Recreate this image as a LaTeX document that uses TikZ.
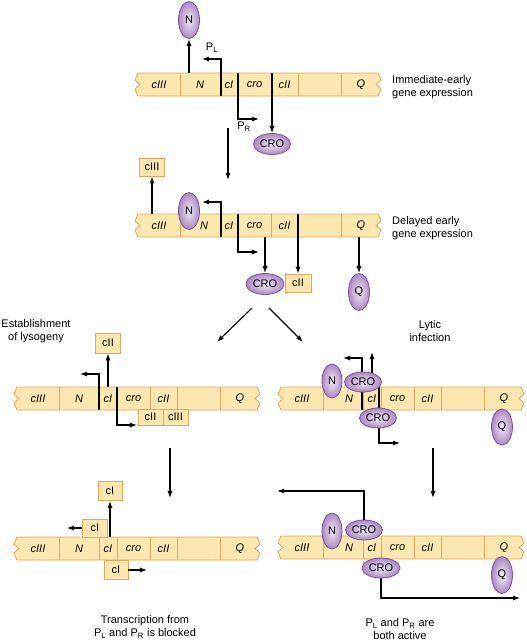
\documentclass[tikz,border=0pt]{standalone}
\usepackage{fontspec}
\setmainfont{Liberation Sans}
\usetikzlibrary{shapes.geometric}
\usetikzlibrary{arrows.meta}

\definecolor{dnafill}{HTML}{FCE7AE}
\definecolor{dnaline}{HTML}{E2A862}
\definecolor{protlight}{HTML}{F3ECF7}
\definecolor{protdark}{HTML}{AB88C4}
\definecolor{protline}{HTML}{7D569A}

\begin{document}
\begin{tikzpicture}[x=1pt,y=-1pt,
    every node/.style={font=\fontsize{11}{13}\selectfont},
    dna_strip/.style={draw=dnaline,fill=dnafill,line width=0.8pt,line join=round},
    dna_line/.style={draw=dnaline,line width=0.8pt},
    gene_label/.style={font=\fontsize{11}{13}\selectfont\itshape,inner sep=0pt},
    prot_tall/.style={ellipse,draw=protline,line width=0.8pt,inner color=protlight,outer color=protdark,
                      inner sep=0pt,minimum width=21pt,minimum height=37pt},
    prot_wide/.style={ellipse,draw=protline,line width=0.8pt,inner color=protlight,outer color=protdark,
                      inner sep=0pt,minimum width=37pt,minimum height=21pt},
    prot_box/.style={rectangle,draw=dnaline,fill=dnafill,line width=0.8pt,
                     inner sep=0pt,minimum width=25pt,minimum height=18pt},
    stage_label/.style={align=center,inner sep=0pt},
    tx_arrow/.style={line width=1.1pt,-{Latex[length=7pt,width=5pt]}}]
\useasboundingbox (0,0) rectangle (527,641);

% the six DNA strips
\foreach \s/\x/\y/\nsh in {a/135/73/0, b/135/214/4, c/14/387/0, d/278/387/6, e/14/537/0, f/278/536/6} {
    \draw[dna_strip] ({\x+3},\y) -- ({\x+243},\y) -- ({\x+246},{\y+7}) -- ({\x+241},{\y+11.5})
        -- ({\x+246},{\y+16}) -- ({\x+243},{\y+23}) -- ({\x+3},{\y+23}) -- (\x,{\y+16})
        -- ({\x+5},{\y+11.5}) -- (\x,{\y+7}) -- cycle;
    \foreach \d in {45,85,103,136,163,206}
        \draw[dna_line] ({\x+\d},\y) -- ({\x+\d},{\y+23});
    \node[gene_label] (\s-cIII) at ({\x+24},{\y+11.5}) {cIII};
    \node[gene_label] (\s-N) at ({\x+65+\nsh},{\y+11.5}) {N};
    \node[gene_label] (\s-cI) at ({\x+94},{\y+11.5}) {cI};
    \node[gene_label] (\s-cro) at ({\x+119.5},{\y+11.5}) {cro};
    \node[gene_label] (\s-cII) at ({\x+149.5},{\y+11.5}) {cII};
    \node[gene_label] (\s-Q) at ({\x+226},{\y+11.5}) {Q};
}

% stage texts
\node[stage_label,anchor=west,align=left] (lab-a) at (392,87) {Immediate-early\\gene expression};
\node[stage_label,anchor=west,align=left] (lab-b) at (392,228) {Delayed early\\gene expression};
\node[stage_label] (lab-c) at (36,331) {Establishment\\of lysogeny};
\node[stage_label] (lab-d) at (430,331) {Lytic\\infection};
\node[stage_label] (lab-e) at (145,627) {Transcription from\\P\textsubscript{L} and P\textsubscript{R} is blocked};
\node[stage_label] (lab-f) at (400,629) {P\textsubscript{L} and P\textsubscript{R} are\\both active};

% promoter arrows drawn under the proteins
\coordinate (a-PL) at (221,96);   \coordinate (a-PLend) at (202,59);
\coordinate (a-PR) at (238,73);   \coordinate (a-PRend) at (259,119);
\coordinate (b-PL) at (221,237);  \coordinate (b-PLend) at (202,202);
\coordinate (b-PR) at (238,214);  \coordinate (b-PRend) at (259,252);
\coordinate (c-PL) at (99,410);   \coordinate (c-PLend) at (80,374);
\coordinate (c-PR) at (117,387);  \coordinate (c-PRend) at (137,425);
\coordinate (d-PL) at (362,410);  \coordinate (d-PLend) at (343,358);
\coordinate (d-PR) at (379,387);  \coordinate (d-PRend) at (400,443);
\draw[tx_arrow] (a-PL) |- (a-PLend);
\draw[tx_arrow] (a-PR) |- (a-PRend);
\draw[tx_arrow] (b-PL) |- (b-PLend);
\draw[tx_arrow] (b-PR) |- (b-PRend);
\draw[tx_arrow] (c-PL) |- (c-PLend);
\draw[tx_arrow] (c-PR) |- (c-PRend);
\draw[tx_arrow] (d-PL) |- (d-PLend);
\draw[tx_arrow] (d-PR) |- (d-PRend);
\node (a-PLlab) at (212,48) {P\textsubscript{L}};
\node (a-PRlab) at (244,127) {P\textsubscript{R}};

% proteins
\node[prot_tall] (a-Nprot) at (189,20) {N};
\node[prot_wide] (a-CRO) at (272,144) {CRO};

\node[prot_box] (b-cIIIprot) at (152,167) {cIII};
\node[prot_tall] (b-Nprot) at (189,211) {N};
\node[prot_wide,minimum width=38pt] (b-CRO) at (265,284) {CRO};
\node[prot_box,minimum width=26pt] (b-cIIprot) at (298,283) {cII};
\node[prot_tall] (b-Qprot) at (359,292) {Q};

\node[prot_box,minimum height=20pt] (c-cIItop) at (108,343) {cII};
\node[prot_box,minimum height=16pt] (c-cIIlow) at (150.5,417) {cII};
\node[prot_box,minimum height=16pt] (c-cIIIlow) at (175.5,417) {cIII};

\node[prot_tall,minimum width=20pt,minimum height=34pt] (d-Nprot) at (332,381) {N};
\node[prot_wide,minimum height=20pt] (d-CROup) at (363,382) {CRO};
\node[prot_wide,minimum height=20pt] (d-CROlow) at (378,418) {CRO};
\node[prot_tall,minimum height=36pt] (d-Qprot) at (502,427) {Q};

\node[prot_box,minimum width=24pt,minimum height=19pt] (e-cItop) at (110,491) {cI};
\node[prot_box] (e-cIleft) at (95,528) {cI};
\node[prot_box,minimum width=24pt,minimum height=19pt] (e-cIlow) at (116,570) {cI};

\node[prot_tall,minimum width=20pt,minimum height=36pt] (f-Nprot) at (332,531) {N};
\node[prot_wide,minimum height=20pt] (f-CROup) at (364,530) {CRO};
\node[prot_wide,minimum width=38pt,minimum height=20pt] (f-CROlow) at (381,568) {CRO};
\node[prot_tall] (f-Qprot) at (502,575) {Q};

% expression arrows
\coordinate (a-Nstart) at (189,73);
\coordinate (a-CROstart) at (272,73);
\coordinate (b-cIIIstart) at (152,214);
\coordinate (b-CROstart) at (265,237);
\coordinate (b-cIIstart) at (298,214);
\coordinate (b-Qstart) at (359,237);
\coordinate (c-cIIstart) at (108,387);
\coordinate (d-cIstart) at (372,373);
\coordinate (d-cIend) at (372,352);
\coordinate (e-cIstart) at (110,537);
\coordinate (e-PLend) at (67,528);
\coordinate (e-PRend) at (147,570);
\coordinate (f-PLend) at (277,491);
\coordinate (f-PRend) at (520,598);
\path (a-Nstart) edge[tx_arrow] (a-Nprot);
\path (a-CROstart) edge[tx_arrow] (a-CRO);
\path (b-cIIIstart) edge[tx_arrow] (b-cIIIprot);
\path (b-CROstart) edge[tx_arrow] (b-CRO);
\path (b-cIIstart) edge[tx_arrow] (b-cIIprot);
\path (b-Qstart) edge[tx_arrow] (b-Qprot);
\path (c-cIIstart) edge[tx_arrow] (c-cIItop);
\path (d-cIstart) edge[tx_arrow] (d-cIend);
\path (e-cIstart) edge[tx_arrow] (e-cItop);
\path (e-cIleft) edge[tx_arrow] (e-PLend);
\path (e-cIlow) edge[tx_arrow] (e-PRend);
\draw[tx_arrow] (f-CROup.north) |- (f-PLend);
\draw[tx_arrow] (f-CROlow.south) |- (f-PRend);

% steps between stages
\coordinate (flow1a) at (228,128);  \coordinate (flow1b) at (228,180);
\coordinate (flow2a) at (252,308);  \coordinate (flow2b) at (217,342);
\coordinate (flow3a) at (269,308);  \coordinate (flow3b) at (303,342);
\coordinate (flow4a) at (170,448);  \coordinate (flow4b) at (170,498);
\coordinate (flow5a) at (433,448);  \coordinate (flow5b) at (433,498);
\path (flow1a) edge[tx_arrow] (flow1b);
\path (flow2a) edge[tx_arrow] (flow2b);
\path (flow3a) edge[tx_arrow] (flow3b);
\path (flow4a) edge[tx_arrow] (flow4b);
\path (flow5a) edge[tx_arrow] (flow5b);
\end{tikzpicture}
\end{document}
